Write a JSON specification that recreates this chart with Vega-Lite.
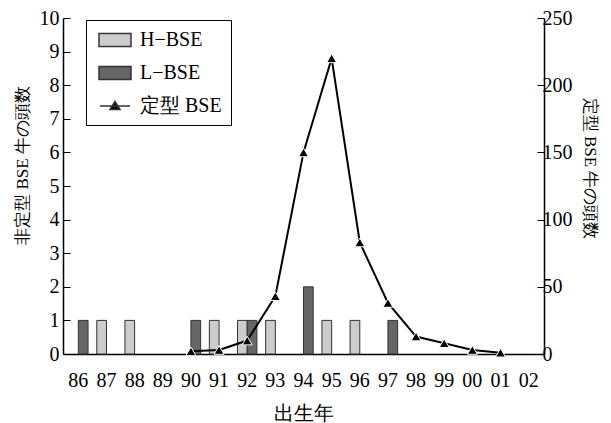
{
  "$schema": "https://vega.github.io/schema/vega-lite/v6.json",
  "width": 481,
  "height": 336,
  "autosize": "none",
  "padding": {"left": 63, "top": 18, "right": 67, "bottom": 69},
  "background": "white",
  "config": {
    "font": "Liberation Serif",
    "view": {"stroke": null},
    "axis": {
      "labelFont": "Liberation Serif",
      "titleFont": "Liberation Serif",
      "labelFontSize": 20,
      "titleFontSize": 17,
      "titleFontWeight": "normal",
      "labelColor": "black",
      "titleColor": "black",
      "domainColor": "black",
      "tickColor": "black",
      "domainWidth": 1.5,
      "tickWidth": 1,
      "grid": false
    },
    "legend": {"labelFont": "Liberation Serif"}
  },
  "datasets": {
    "atyp": [
      {"year": "86", "type": "L-BSE", "count": 1},
      {"year": "87", "type": "H-BSE", "count": 1},
      {"year": "88", "type": "H-BSE", "count": 1},
      {"year": "90", "type": "L-BSE", "count": 1},
      {"year": "91", "type": "H-BSE", "count": 1},
      {"year": "92", "type": "H-BSE", "count": 1},
      {"year": "92", "type": "L-BSE", "count": 1},
      {"year": "93", "type": "H-BSE", "count": 1},
      {"year": "94", "type": "L-BSE", "count": 2},
      {"year": "95", "type": "H-BSE", "count": 1},
      {"year": "96", "type": "H-BSE", "count": 1},
      {"year": "97", "type": "L-BSE", "count": 1}
    ],
    "typ": [
      {"year": "90", "cases": 2},
      {"year": "91", "cases": 3},
      {"year": "92", "cases": 10},
      {"year": "93", "cases": 43},
      {"year": "94", "cases": 150},
      {"year": "95", "cases": 220},
      {"year": "96", "cases": 83},
      {"year": "97", "cases": 38},
      {"year": "98", "cases": 13},
      {"year": "99", "cases": 8},
      {"year": "00", "cases": 3},
      {"year": "01", "cases": 1}
    ]
  },
  "layer": [
    {
      "data": {"name": "atyp"},
      "mark": {"type": "bar", "stroke": "#333333", "strokeWidth": 1},
      "encoding": {
        "x": {
          "field": "year",
          "type": "nominal",
          "scale": {"domain": ["86","87","88","89","90","91","92","93","94","95","96","97","98","99","00","01","02"], "paddingInner": 0.31},
          "axis": {"title": "出生年", "titleFontSize": 20, "labelAngle": 0, "ticks": false, "labelPadding": 16, "titlePadding": 13}
        },
        "xOffset": {"field": "type", "type": "nominal", "scale": {"domain": ["H-BSE", "L-BSE"], "paddingInner": 0, "paddingOuter": 0}},
        "y": {
          "field": "count",
          "type": "quantitative",
          "scale": {"domain": [0, 10]},
          "axis": {"orient": "left", "title": "非定型 BSE 牛の頭数", "values": [0,1,2,3,4,5,6,7,8,9,10], "tickSize": -7, "labelPadding": 11, "titlePadding": 8, "titleY": 147}
        },
        "color": {
          "field": "type",
          "type": "nominal",
          "scale": {"domain": ["H-BSE", "L-BSE", "定型BSE"], "range": ["#cccccc", "#666666", "#000000"]},
          "legend": {
            "title": null,
            "orient": "none",
            "legendX": 23,
            "legendY": 2,
            "strokeColor": "black",
            "fillColor": "white",
            "padding": 9,
            "symbolSize": 400,
            "symbolType": {"expr": "datum.value === '定型BSE' ? 'M-1.5,0H1.5M-0.5,0.35L0,-0.45L0.5,0.35Z' : 'M-1.6,-0.65H1.6V0.65H-1.6Z'"},
            "labelFontSize": 20,
            "labelColor": "black",
            "rowPadding": 12,
            "symbolOffset": 9,
            "labelOffset": 14,
            "labelExpr": "datum.value === 'H-BSE' ? 'H−BSE' : datum.value === 'L-BSE' ? 'L−BSE' : '定型 BSE'",
            "encode": {
              "symbols": {
                "stroke": {"value": {"expr": "datum.value === '定型BSE' ? '#000000' : '#333333'"}},
                "strokeWidth": {"value": {"expr": "datum.value === '定型BSE' ? 2 : 1"}}
              }
            }
          }
        }
      }
    },
    {
      "data": {"name": "typ"},
      "encoding": {
        "x": {"field": "year", "type": "nominal"},
        "y": {
          "field": "cases",
          "type": "quantitative",
          "scale": {"domain": [0, 250]},
          "axis": {"orient": "right", "title": "定型 BSE 牛の頭数", "values": [0,50,100,150,200,250], "tickSize": -7, "labelPadding": 5, "titlePadding": 8, "titleY": 150}
        }
      },
      "layer": [
        {
          "mark": {"type": "line", "strokeWidth": 2, "color": "black"},
          "encoding": {}
        },
        {
          "mark": {"type": "point", "shape": "triangle-up", "filled": true, "fill": "black", "stroke": "white", "strokeWidth": 1, "size": 100, "opacity": 1}
        }
      ]
    }
  ],
  "resolve": {"scale": {"y": "independent"}}
}
